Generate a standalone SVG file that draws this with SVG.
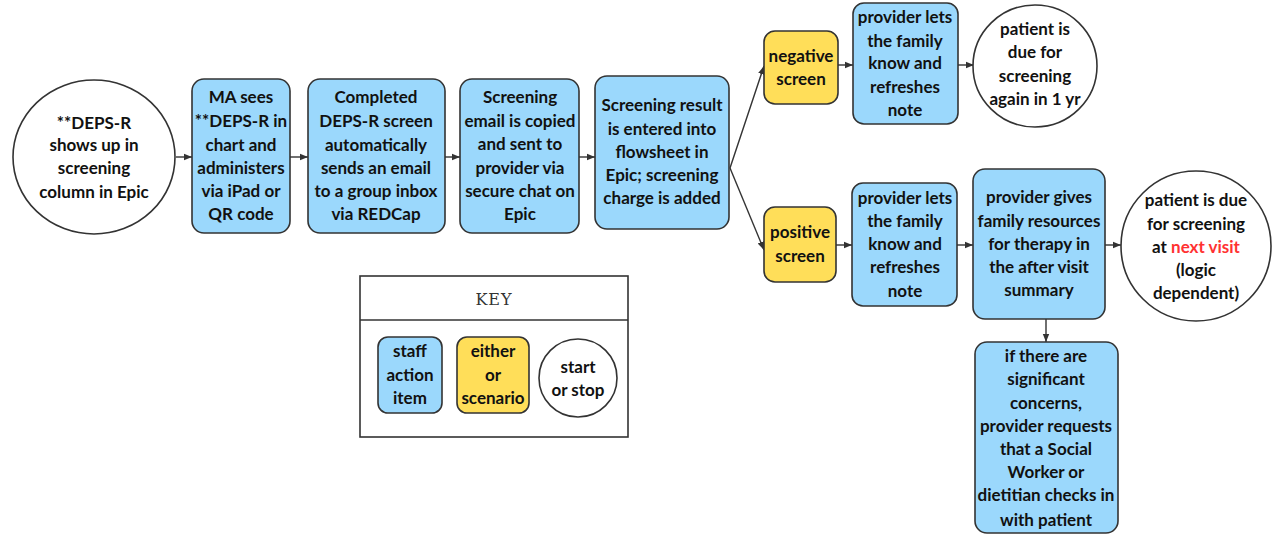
<svg xmlns="http://www.w3.org/2000/svg" width="1287" height="541" viewBox="0 0 1287 541">
<defs>
<marker id="ah" viewBox="0 0 10 10" refX="10" refY="5" markerWidth="6" markerHeight="6" orient="auto"><path d="M0,1 L10,5 L0,9 z" fill="#333"/></marker>
<style>
.b{fill:#9bd8fc;stroke:#333;stroke-width:1.6}
.y{fill:#ffde59;stroke:#333;stroke-width:1.6}
.c{fill:#fff;stroke:#333;stroke-width:1.6}
.t{font-family:Lato,"Noto Sans",sans-serif;font-weight:bold;font-size:17px;fill:#111;text-anchor:middle}
.k{font-family:"DejaVu Serif",serif;font-size:16px;fill:#333;text-anchor:middle;letter-spacing:1px}
.e{stroke:#333;stroke-width:1.4;fill:none;marker-end:url(#ah)}
</style>
</defs>
<rect width="1287" height="541" fill="#fff"/>
<g id="connectors">
<line class="e" x1="176" y1="157" x2="192" y2="157"/>
<line class="e" x1="290" y1="157" x2="308" y2="157"/>
<line class="e" x1="445" y1="157" x2="460" y2="157"/>
<line class="e" x1="579" y1="157" x2="595" y2="157"/>
<line class="e" x1="730" y1="168" x2="764" y2="66"/>
<line class="e" x1="730" y1="168" x2="764" y2="250"/>
<line class="e" x1="838" y1="65" x2="853" y2="65"/>
<line class="e" x1="958" y1="65" x2="974" y2="65"/>
<line class="e" x1="836" y1="245" x2="852" y2="245"/>
<line class="e" x1="957" y1="245" x2="973" y2="245"/>
<line class="e" x1="1105" y1="245" x2="1121" y2="245"/>
<line class="e" x1="1046" y1="319" x2="1046" y2="342"/>
</g>
<g id="start">
<ellipse class="c" cx="94" cy="157" rx="81" ry="77"/>
<text class="t" x="94" y="129">**DEPS-R</text>
<text class="t" x="94" y="151">shows up in</text>
<text class="t" x="94" y="174">screening</text>
<text class="t" x="94" y="198">column in Epic</text>
</g>
<g id="ma">
<rect class="b" x="192" y="79" width="98" height="154" rx="12"/>
<text class="t" x="241" y="103">MA sees</text>
<text class="t" x="241" y="127">**DEPS-R in</text>
<text class="t" x="241" y="151">chart and</text>
<text class="t" x="241" y="174">administers</text>
<text class="t" x="241" y="197">via iPad or</text>
<text class="t" x="241" y="220">QR code</text>
</g>
<g id="completed">
<rect class="b" x="308" y="79" width="137" height="154" rx="12"/>
<text class="t" x="376" y="103">Completed</text>
<text class="t" x="376" y="127">DEPS-R screen</text>
<text class="t" x="376" y="151">automatically</text>
<text class="t" x="376" y="174">sends an email</text>
<text class="t" x="376" y="197">to a group inbox</text>
<text class="t" x="376" y="220">via REDCap</text>
</g>
<g id="email">
<rect class="b" x="460" y="79" width="119" height="154" rx="12"/>
<text class="t" x="520" y="103">Screening</text>
<text class="t" x="520" y="127">email is copied</text>
<text class="t" x="520" y="150">and sent to</text>
<text class="t" x="520" y="174">provider via</text>
<text class="t" x="520" y="197">secure chat on</text>
<text class="t" x="520" y="220">Epic</text>
</g>
<g id="result">
<rect class="b" x="595" y="76" width="134" height="153" rx="12"/>
<text class="t" x="662" y="111">Screening result</text>
<text class="t" x="662" y="135">is entered into</text>
<text class="t" x="662" y="158">flowsheet in</text>
<text class="t" x="662" y="181">Epic; screening</text>
<text class="t" x="662" y="204">charge is added</text>
</g>
<g id="negative">
<rect class="y" x="764" y="31" width="74" height="73" rx="11"/>
<text class="t" x="801" y="62">negative</text>
<text class="t" x="801" y="85">screen</text>
</g>
<g id="provider-neg">
<rect class="b" x="853" y="3" width="105" height="121" rx="11"/>
<text class="t" x="905" y="23">provider lets</text>
<text class="t" x="905" y="47">the family</text>
<text class="t" x="905" y="69">know and</text>
<text class="t" x="905" y="93">refreshes</text>
<text class="t" x="905" y="116">note</text>
</g>
<g id="due-1yr">
<ellipse class="c" cx="1035" cy="66" rx="62" ry="61"/>
<text class="t" x="1035" y="35">patient is</text>
<text class="t" x="1035" y="58">due for</text>
<text class="t" x="1035" y="82">screening</text>
<text class="t" x="1035" y="105">again in 1 yr</text>
</g>
<g id="positive">
<rect class="y" x="764" y="207" width="72" height="75" rx="11"/>
<text class="t" x="800" y="238">positive</text>
<text class="t" x="800" y="262">screen</text>
</g>
<g id="provider-pos">
<rect class="b" x="852" y="183" width="105" height="123" rx="11"/>
<text class="t" x="905" y="204">provider lets</text>
<text class="t" x="905" y="227">the family</text>
<text class="t" x="905" y="250">know and</text>
<text class="t" x="905" y="273">refreshes</text>
<text class="t" x="905" y="297">note</text>
</g>
<g id="resources">
<rect class="b" x="973" y="169" width="132" height="150" rx="12"/>
<text class="t" x="1039" y="203">provider gives</text>
<text class="t" x="1039" y="227">family resources</text>
<text class="t" x="1039" y="250">for therapy in</text>
<text class="t" x="1039" y="273">the after visit</text>
<text class="t" x="1039" y="296">summary</text>
</g>
<g id="due-next">
<ellipse class="c" cx="1196" cy="246" rx="75" ry="75"/>
<text class="t" x="1196" y="206">patient is due</text>
<text class="t" x="1196" y="230">for screening</text>
<text class="t" x="1196" y="253">at <tspan fill="#ff3131">next visit</tspan></text>
<text class="t" x="1196" y="276">(logic</text>
<text class="t" x="1196" y="299">dependent)</text>
</g>
<g id="social">
<rect class="b" x="975" y="342" width="143" height="191" rx="12"/>
<text class="t" x="1046" y="362">if there are</text>
<text class="t" x="1046" y="385">significant</text>
<text class="t" x="1046" y="409">concerns,</text>
<text class="t" x="1046" y="432">provider requests</text>
<text class="t" x="1046" y="455">that a Social</text>
<text class="t" x="1046" y="478">Worker or</text>
<text class="t" x="1046" y="501">dietitian checks in</text>
<text class="t" x="1046" y="526">with patient</text>
</g>
<g id="key">
<rect x="360" y="276" width="268" height="161" fill="#fff" stroke="#333" stroke-width="1.6"/>
<line x1="360" y1="320" x2="628" y2="320" stroke="#333" stroke-width="1.6"/>
<text class="k" x="494" y="305">KEY</text>
<rect class="b" x="378" y="337" width="64" height="76" rx="10"/>
<text class="t" x="410" y="357">staff</text>
<text class="t" x="410" y="381">action</text>
<text class="t" x="410" y="404">item</text>
<rect class="y" x="457" y="337" width="72" height="76" rx="10"/>
<text class="t" x="493" y="357">either</text>
<text class="t" x="493" y="381">or</text>
<text class="t" x="493" y="404">scenario</text>
<ellipse class="c" cx="578" cy="378" rx="39" ry="39"/>
<text class="t" x="578" y="373">start</text>
<text class="t" x="578" y="396">or stop</text>
</g>
</svg>
